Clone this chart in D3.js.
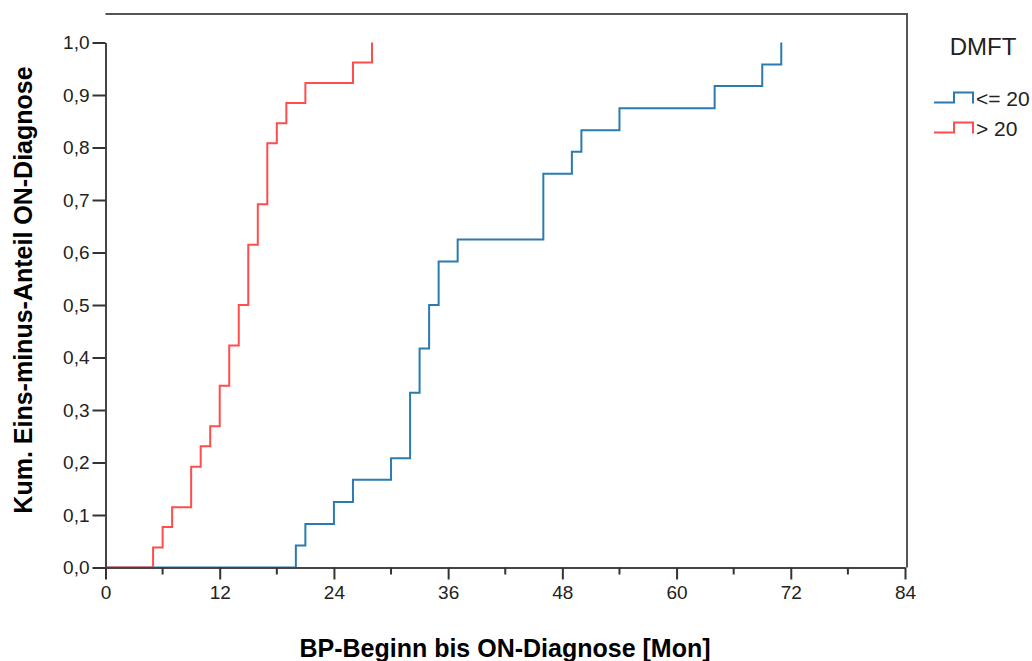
<!DOCTYPE html>
<html>
<head>
<meta charset="utf-8">
<script src="https://cdn.jsdelivr.net/npm/d3@7"></script>
<style>
  body { margin: 0; background: #fff; }
  svg { font-family: "Liberation Sans", Arial, sans-serif; }
</style>
</head>
<body>
<script>
// Zeitpunkte (Monate) und kumulierte Anteile je Gruppe
const blueTimes = [20, 21, 24, 26, 30, 32, 33, 34, 35, 37, 46, 49, 50, 54, 64, 69, 71];
const blueValues = [0.042, 0.083, 0.125, 0.167, 0.208, 0.333, 0.417, 0.5, 0.583, 0.625, 0.75, 0.792, 0.833, 0.875, 0.917, 0.958, 1.0];
const redTimes = [5, 6, 7, 9, 10, 11, 12, 13, 14, 15, 16, 17, 18, 19, 21, 26, 28];
const redValues = [0.038, 0.077, 0.115, 0.192, 0.231, 0.269, 0.346, 0.423, 0.5, 0.615, 0.692, 0.808, 0.846, 0.885, 0.923, 0.962, 1.0];
const groups = ['<= 20', '> 20'];
const colors = ['#2b7bb0', '#ff4d4d'];
const xTicks = [0, 12, 24, 36, 48, 60, 72, 84];
const xMinor = [6, 18, 30, 42, 54, 66, 78];
const yTicks = [0, 0.1, 0.2, 0.3, 0.4, 0.5, 0.6, 0.7, 0.8, 0.9, 1.0];

const svg = d3.select('body').append('svg')
  .attr('width', 1032)
  .attr('height', 661);

const x = d3.scaleLinear().domain([0, 84]).range([105.5, 905]);
const y = d3.scaleLinear().domain([0, 1]).range([567.5, 42.5]);

// Rahmen oben/rechts
svg.append('path')
  .attr('d', `M105.5,14 H907 V567.5`)
  .attr('fill', 'none')
  .attr('stroke', '#555')
  .attr('stroke-width', 2);

// Kurven
const series = [
  { times: blueTimes, values: blueValues },
  { times: redTimes, values: redValues }
];
const line = d3.line()
  .x(d => x(d[0]))
  .y(d => y(d[1]))
  .curve(d3.curveStepAfter);

series.forEach((s, i) => {
  const pts = [[0, 0]].concat(s.times.map((t, j) => [t, s.values[j]]));
  svg.append('path')
    .datum(pts)
    .attr('d', line)
    .attr('fill', 'none')
    .attr('stroke', colors[i])
    .attr('stroke-width', 2);
});

// x-Achse
const xAxis = svg.append('g')
  .attr('transform', 'translate(0,567.5)')
  .call(d3.axisBottom(x).tickValues(xTicks).tickSize(12).tickSizeOuter(0).tickPadding(6));
xAxis.selectAll('.minor')
  .data(xMinor)
  .enter().append('line')
  .attr('class', 'minor')
  .attr('x1', d => x(d)).attr('x2', d => x(d))
  .attr('y1', 0).attr('y2', 7)
  .attr('stroke', '#333').attr('stroke-width', 2);

// y-Achse
const yAxis = svg.append('g')
  .attr('transform', 'translate(105.5,0)')
  .call(d3.axisLeft(y).tickValues(yTicks).tickSize(13).tickSizeOuter(0).tickPadding(3)
    .tickFormat(d => d3.format('.1f')(d).replace('.', ',')));

[xAxis, yAxis].forEach(a => {
  a.select('.domain').attr('stroke', '#444').attr('stroke-width', 2);
  a.selectAll('.tick line').attr('stroke', '#333').attr('stroke-width', 2);
  a.selectAll('.tick text')
    .attr('fill', '#222')
    .style('font-size', '19px')
    .style('font-family', '"Liberation Sans", Arial, sans-serif');
});

// Achsentitel
svg.append('text')
  .attr('x', 505).attr('y', 657)
  .attr('text-anchor', 'middle')
  .style('font-size', '25px')
  .style('font-weight', 'bold')
  .text('BP-Beginn bis ON-Diagnose [Mon]');

svg.append('text')
  .attr('transform', 'translate(32,290) rotate(-90)')
  .attr('text-anchor', 'middle')
  .style('font-size', '25px')
  .style('font-weight', 'bold')
  .text('Kum. Eins-minus-Anteil ON-Diagnose');

// Legende
svg.append('text')
  .attr('x', 983).attr('y', 55)
  .attr('text-anchor', 'middle')
  .style('font-size', '24px')
  .attr('fill', '#222')
  .text('DMFT');

groups.forEach((g, i) => {
  const ly = 102.5 + i * 30;
  svg.append('path')
    .attr('d', `M934,${ly} H954 V${ly - 10} H973 V${ly + 1}`)
    .attr('fill', 'none')
    .attr('stroke', colors[i])
    .attr('stroke-width', 2);
  svg.append('text')
    .attr('x', 976).attr('y', ly + 3)
    .style('font-size', '21px')
    .attr('fill', '#222')
    .text(g);
});
</script>
</body>
</html>
